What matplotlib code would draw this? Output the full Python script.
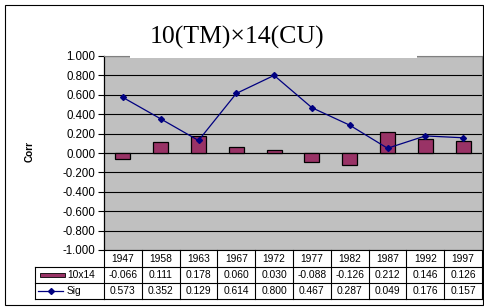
import matplotlib
matplotlib.use("Agg")
import matplotlib.pyplot as plt
import matplotlib.transforms as mtransforms
from matplotlib.patches import Rectangle
from matplotlib.lines import Line2D

years = ["1947", "1958", "1963", "1967", "1972", "1977", "1982", "1987", "1992", "1997"]
corr_10x14 = [-0.066, 0.111, 0.178, 0.060, 0.030, -0.088, -0.126, 0.212, 0.146, 0.126]
sig = [0.573, 0.352, 0.129, 0.614, 0.800, 0.467, 0.287, 0.049, 0.176, 0.157]
yticks = [-1.0, -0.8, -0.6, -0.4, -0.2, 0.0, 0.2, 0.4, 0.6, 0.8, 1.0]

W, H = 484, 308
bar_color = "#993366"
line_color = "#000080"
plt.rcParams["font.family"] = ["Liberation Sans", "DejaVu Sans"]

fig = plt.figure(figsize=(W / 100, H / 100), dpi=100)
fig.patch.set_facecolor("white")


def fx(x):
    return x / W


def fy(y):
    return 1 - y / H


# plot area in pixels
left, right, top, bottom = 104, 482, 56, 250
ax = fig.add_axes([fx(left), fy(bottom), fx(right - left), (bottom - top) / H])
ax.set_facecolor("#c0c0c0")

x = list(range(len(years)))
ax.bar(x, corr_10x14, width=0.4, color=bar_color, edgecolor="black", linewidth=0.9, zorder=3)
ax.plot(x, sig, color=line_color, linewidth=0.9, marker="D", markersize=3, zorder=4)

ax.set_xlim(-0.5, len(years) - 0.5)
ax.set_ylim(-1.0, 1.0)
ax.set_yticks(yticks)
ax.set_yticklabels(["%.3f" % v for v in yticks], fontsize=8.3)
ax.set_xticks([])
ax.tick_params(axis="y", direction="out", length=4, width=0.8, pad=2)
for v in yticks:
    ax.axhline(v, color="black", linewidth=0.8, zorder=1)
ax.axhline(0, color="black", linewidth=0.8, zorder=2)
for s in ["top", "right"]:
    ax.spines[s].set_color("#808080")
ax.spines["left"].set_color("black")
ax.spines["bottom"].set_color("black")
ax.spines["left"].set_linewidth(0.9)

fig.text(fx(30), fy(152), "Corr", rotation=90, fontsize=7.2, fontweight="bold",
         ha="center", va="center")

# title box covering the top of the plot area
fig.patches.append(Rectangle((fx(130), fy(57.5)), fx(287), (57.5 - 20) / H,
                             transform=fig.transFigure, facecolor="white",
                             edgecolor="none", zorder=5))
fig.text(fx(237), fy(37), "10(TM)×14(CU)", fontsize=18.5, family="Liberation Serif",
         ha="center", va="center", zorder=6)

# data table under the axis
trans = mtransforms.blended_transform_factory(ax.transData, ax.transAxes)
rows_px = [250, 267, 283, 299]
ry = [(bottom - r) / (bottom - top) for r in rows_px]
n = len(years)
for i in range(n + 1):
    ax.add_line(Line2D([i - 0.5, i - 0.5], [ry[0], ry[3]], color="black", linewidth=0.8,
                       transform=trans, clip_on=False))
for r in ry[1:]:
    ax.add_line(Line2D([-0.5, n - 0.5], [r, r], color="black", linewidth=0.8,
                       transform=trans, clip_on=False))

for i in range(n):
    ax.text(i, (ry[0] + ry[1]) / 2, years[i], transform=trans, ha="center", va="center", fontsize=7.4)
    ax.text(i, (ry[1] + ry[2]) / 2, "%.3f" % corr_10x14[i], transform=trans, ha="center", va="center", fontsize=7.4)
    ax.text(i, (ry[2] + ry[3]) / 2, "%.3f" % sig[i], transform=trans, ha="center", va="center", fontsize=7.4)

# legend cells at the left of the table
lx0 = 35
for yy in [267, 283, 299]:
    fig.add_artist(Line2D([fx(lx0), fx(left)], [fy(yy), fy(yy)], color="black", linewidth=0.8))
fig.add_artist(Line2D([fx(lx0), fx(lx0)], [fy(267), fy(299)], color="black", linewidth=0.8))
fig.patches.append(Rectangle((fx(40), fy(277)), fx(25), 4 / H, transform=fig.transFigure,
                             facecolor=bar_color, edgecolor="black", linewidth=0.6))
fig.text(fx(67), fy(275), "10x14", fontsize=7.4, ha="left", va="center")
fig.add_artist(Line2D([fx(38), fx(63)], [fy(291), fy(291)], color=line_color, linewidth=0.9))
fig.add_artist(Line2D([fx(50.5)], [fy(291)], color=line_color, marker="D", markersize=3))
fig.text(fx(67), fy(291), "Sig", fontsize=7.4, ha="left", va="center")

# outer chart border
fig.patches.append(Rectangle((fx(5), fy(305)), fx(478), 300 / H, transform=fig.transFigure,
                             facecolor="none", edgecolor="black", linewidth=0.8))

fig.savefig("out.png", dpi=100)
